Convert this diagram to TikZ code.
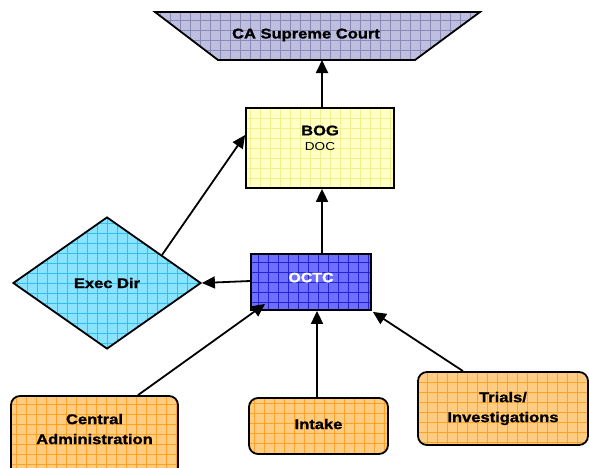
\documentclass[tikz,border=0pt]{standalone}
\usepackage{fontspec}
\setmainfont{Liberation Sans}[FakeStretch=1.18, BoldFeatures={FakeBold=1.2}]
\usetikzlibrary{shapes.geometric,arrows.meta,calc}

\definecolor{courtfill}{HTML}{BEBEDE}
\definecolor{courtgrid}{HTML}{8A8AB8}
\definecolor{bogfill}{HTML}{FFFFC6}
\definecolor{boggrid}{HTML}{F0F08C}
\definecolor{octcfill}{HTML}{6E6EFF}
\definecolor{octcgrid}{HTML}{2222D6}
\definecolor{execfill}{HTML}{8AE4FF}
\definecolor{execgrid}{HTML}{2EC0F0}
\definecolor{unitfill}{HTML}{FFCC82}
\definecolor{unitgrid}{HTML}{FFA326}

\tikzset{
  gridded/.style 2 args={
    fill=#1,
    path picture={\draw[#2, line width=0.6pt, step=10pt]
      ([xshift=-10pt,yshift=-10pt]path picture bounding box.south west) grid
      ([xshift=10pt,yshift=10pt]path picture bounding box.north east);}
  },
  outline/.style={draw=black, line width=1.8pt},
  boxnode/.style={outline, rectangle, inner sep=0pt},
  unitbox/.style={boxnode, gridded={unitfill}{unitgrid}, rounded corners=9pt,
    align=center, font=\fontsize{14}{20}\selectfont\bfseries},
  arr/.style={line width=1.8pt, -{Triangle[length=13pt,width=12pt]}},
}

\begin{document}
\begin{tikzpicture}[x=1pt, y=-1pt]
\useasboundingbox (0,0) rectangle (589,467);

% court trapezoid
\path[gridded={courtfill}{courtgrid}, outline]
  (155,12) -- (480,12) -- (415,60) -- (218,60) -- cycle;
\node[font=\fontsize{14}{16}\selectfont\bfseries] (court) at (306,35) {CA Supreme Court};
\coordinate (courtbase) at (322,60);

% board box
\node[boxnode, gridded={bogfill}{boggrid}, minimum width=148pt, minimum height=80pt]
  (bog) at (320,148) {};
\node[align=center, font=\fontsize{14}{16}\selectfont\bfseries] (boglabel) at (320,138)
  {BOG\\[-1pt]{\fontsize{11.5}{13}\mdseries\selectfont DOC}};

% OCTC box
\node[boxnode, gridded={octcfill}{octcgrid}, minimum width=120pt, minimum height=56pt,
  text=white, font=\fontsize{13.5}{16}\selectfont\bfseries, text depth=9pt]
  (octc) at (311,282) {OCTC};

% executive director diamond
\node[diamond, outline, gridded={execfill}{execgrid}, inner sep=0pt, aspect=1.42,
  minimum width=188pt, minimum height=132pt,
  font=\fontsize{14}{16}\selectfont\bfseries] (exec) at (107,283) {\raisebox{-5pt}{Exec Dir}};

% unit boxes
\node[unitbox, minimum width=167pt, minimum height=84pt, text depth=18pt]
  (central) at (94.5,438) {Central\\Administration};
\node[unitbox, minimum width=139pt, minimum height=56pt]
  (intake) at (318.5,426) {\raisebox{4pt}{Intake}};
\node[unitbox, minimum width=170pt, minimum height=73pt]
  (trials) at (503,408.5) {Trials/\\Investigations};

% connectors
\draw[arr] (bog.north -| courtbase) -- (courtbase);
\draw[arr] ([xshift=11pt]octc.north) -- ([xshift=11pt]octc.north |- bog.south);
\draw[arr] ($(exec.north)!0.58!(exec.east)$) -- ([yshift=13pt]bog.west);
\draw[arr] ([yshift=1pt]octc.west) -- (exec.east);
\draw[arr] ([xshift=43.5pt]central.north) -- ([xshift=15pt,yshift=7pt]octc.south west);
\draw[arr] ([xshift=-1.5pt]intake.north) -- ([xshift=-1.5pt]intake.north |- octc.south);
\draw[arr] ([xshift=-40pt]trials.north) -- ([xshift=1pt,yshift=-1pt]octc.south east);
\end{tikzpicture}
\end{document}
